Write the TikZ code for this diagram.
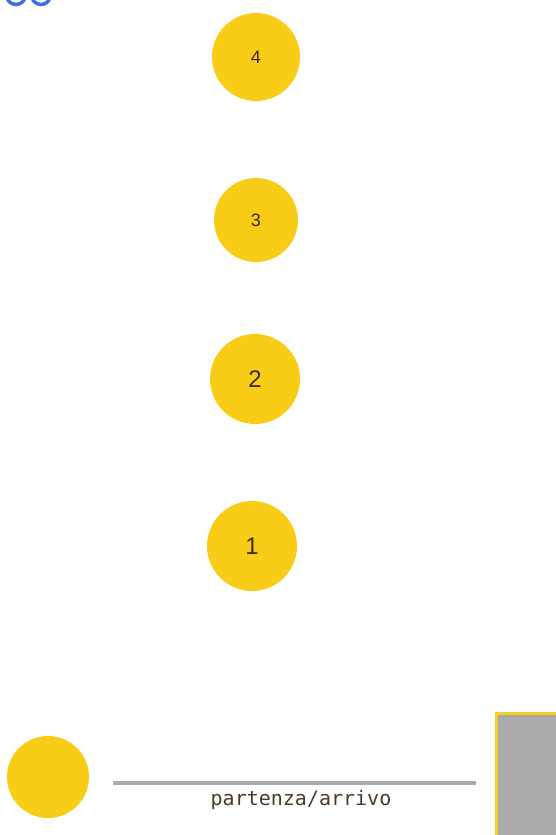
\documentclass[tikz,border=0pt]{standalone}
\usepackage{fontspec}
\setmainfont{Liberation Sans}
\newfontfamily\monofont{DejaVu Sans Mono}
\usetikzlibrary{calc}

\definecolor{spotyellow}{HTML}{F9CD17}
\definecolor{boxyellow}{HTML}{F6D024}
\definecolor{trackgray}{HTML}{ABABAB}
\definecolor{digitbrown}{HTML}{3B2A14}
\definecolor{logoblue}{HTML}{3D6FE3}

\tikzset{
    spot/.style={circle, fill=spotyellow, inner sep=0pt, text=digitbrown},
}

\begin{document}
\begin{tikzpicture}[x=1pt, y=-1pt]
    \useasboundingbox (0, 0) rectangle (556, 835);
    \clip (0, 0) rectangle (556, 835);

    % cut-off mark at the top left
    \draw[logoblue, line width=3.5pt] (16, -5) circle (9.5);
    \draw[logoblue, line width=3.5pt] (41, -5) circle (9.5);

    % the numbered spots
    \node[spot, minimum size=88pt, font=\fontsize{18}{18}\selectfont] (S4) at (256, 57) {4};
    \node[spot, minimum size=84pt, font=\fontsize{18}{18}\selectfont] (S3) at (256, 220) {3};
    \node[spot, minimum size=90pt, font=\fontsize{24}{24}\selectfont] (S2) at (255, 379) {2};
    \node[spot, minimum size=90pt, font=\fontsize{24}{24}\selectfont] (S1) at (252, 546) {1};

    % start / finish
    \node[spot, minimum size=82pt] (S0) at (48, 777) {};
    \coordinate (T1) at (113, 783);
    \coordinate (T2) at (476, 783);
    \draw[trackgray, line width=4pt] (T1) -- (T2);
    \node[anchor=base, text=digitbrown!80!gray, font=\monofont\fontsize{20}{20}\selectfont] (lbl) at (301, 805) {partenza/arrivo};

    \filldraw[fill=trackgray, draw=boxyellow, line width=3pt] (496.5, 713.5) rectangle (570, 850);
\end{tikzpicture}
\end{document}
